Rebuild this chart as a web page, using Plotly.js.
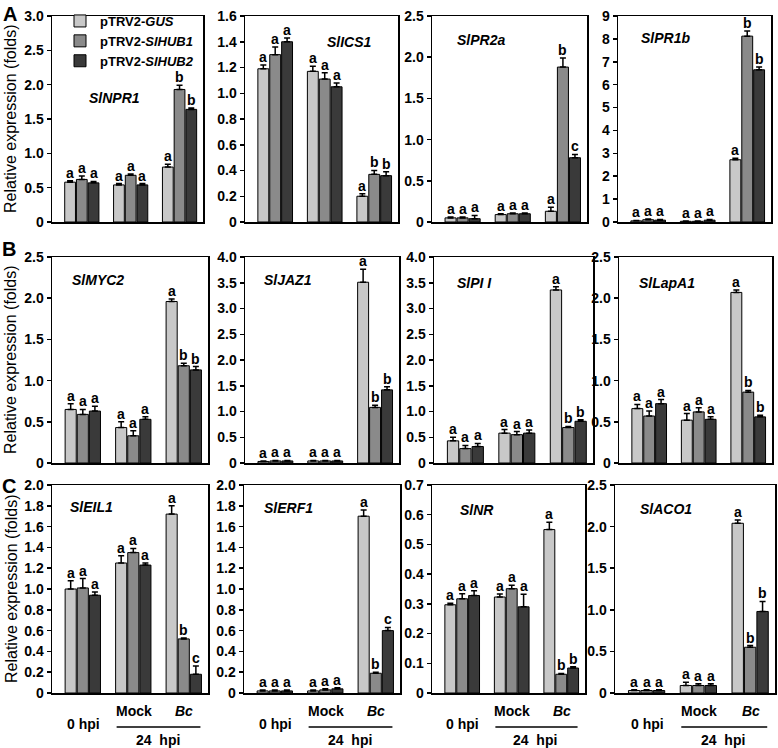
<!DOCTYPE html>
<html><head><meta charset="utf-8">
<script src="https://cdn.plot.ly/plotly-3.0.1.min.js"></script>
<style>html,body{margin:0;padding:0;background:#fff}#chart{width:778px;height:748px}</style>
</head><body><div id="chart"></div>
<script>
// ---------------- DATA ----------------
const groups = ['0 hpi', 'Mock', 'Bc'];
const seriesNames = ['pTRV2-<i>GUS</i>', 'pTRV2-<i>SlHUB1</i>', 'pTRV2-<i>SlHUB2</i>'];
const genes = ['SlNPR1','SlICS1','SlPR2a','SlPR1b','SlMYC2','SlJAZ1','SlPI I','SlLapA1','SlEIL1','SlERF1','SlNR','SlACO1'];

const gusMean = [[0.58,0.54,0.80],[1.19,1.17,0.20],[0.05,0.09,0.13],[0.05,0.03,2.72],
                 [0.65,0.43,1.96],[0.03,0.04,3.51],[0.43,0.58,3.36],[0.66,0.52,2.07],
                 [1.00,1.25,1.72],[0.02,0.02,1.70],[0.297,0.323,0.550],[0.03,0.09,2.04]];
const gusErr  = [[0.02,0.02,0.04],[0.03,0.04,0.02],[0.01,0.01,0.05],[0.02,0.01,0.07],
                 [0.07,0.07,0.03],[0.01,0.01,0.25],[0.07,0.07,0.06],[0.05,0.08,0.03],
                 [0.08,0.07,0.08],[0.01,0.01,0.06],[0.005,0.01,0.025],[0.01,0.04,0.04]];
const hub1Mean = [[0.62,0.68,1.93],[1.30,1.11,0.37],[0.05,0.10,1.88],[0.10,0.03,8.12],
                  [0.59,0.33,1.18],[0.04,0.04,1.08],[0.28,0.55,0.69],[0.57,0.62,0.86],
                  [1.01,1.35,0.52],[0.02,0.03,0.19],[0.317,0.351,0.063],[0.03,0.09,0.55]];
const hub1Err  = [[0.05,0.02,0.06],[0.06,0.05,0.03],[0.01,0.01,0.11],[0.03,0.01,0.22],
                  [0.06,0.06,0.03],[0.01,0.01,0.04],[0.06,0.06,0.02],[0.06,0.05,0.02],
                  [0.09,0.04,0.01],[0.01,0.01,0.01],[0.017,0.012,0.003],[0.01,0.02,0.02]];
const hub2Mean = [[0.57,0.54,1.64],[1.40,1.05,0.36],[0.04,0.10,0.78],[0.08,0.08,6.65],
                  [0.63,0.53,1.13],[0.04,0.04,1.42],[0.32,0.58,0.81],[0.72,0.53,0.56],
                  [0.94,1.23,0.18],[0.02,0.04,0.60],[0.328,0.290,0.084],[0.03,0.09,0.98]];
const hub2Err  = [[0.02,0.02,0.02],[0.03,0.03,0.03],[0.04,0.01,0.04],[0.03,0.03,0.12],
                  [0.06,0.03,0.04],[0.01,0.01,0.06],[0.06,0.06,0.03],[0.05,0.03,0.02],
                  [0.03,0.02,0.08],[0.01,0.01,0.03],[0.016,0.042,0.004],[0.01,0.02,0.12]];
const gusLetters  = [['a','a','a'],['a','a','a'],['a','a','a'],['a','a','a'],['a','a','a'],['a','a','a'],
                     ['a','a','a'],['a','a','a'],['a','a','a'],['a','a','a'],['a','a','a'],['a','a','a']];
const hub1Letters = [['a','a','b'],['a','a','b'],['a','a','b'],['a','a','b'],['a','a','b'],['a','a','b'],
                     ['a','a','b'],['a','a','b'],['a','a','b'],['a','a','b'],['a','a','b'],['a','a','b']];
const hub2Letters = [['a','a','b'],['a','a','b'],['a','a','c'],['a','a','b'],['a','a','b'],['a','a','b'],
                     ['a','a','b'],['a','a','b'],['a','a','c'],['a','a','c'],['a','a','b'],['a','a','b']];

const yMax = [3, 1.6, 2.5, 9, 2.5, 4, 4, 2.5, 2, 2, 0.7, 2.5];
const yTickVals = [
  [0,0.5,1,1.5,2,2.5,3],[0,0.2,0.4,0.6,0.8,1,1.2,1.4,1.6],[0,0.5,1,1.5,2,2.5],[0,1,2,3,4,5,6,7,8,9],
  [0,0.5,1,1.5,2,2.5],[0,0.5,1,1.5,2,2.5,3,3.5,4],[0,0.5,1,1.5,2,2.5,3,3.5,4],[0,0.5,1,1.5,2,2.5],
  [0,0.2,0.4,0.6,0.8,1,1.2,1.4,1.6,1.8,2],[0,0.2,0.4,0.6,0.8,1,1.2,1.4,1.6,1.8,2],
  [0,0.1,0.2,0.3,0.4,0.5,0.6,0.7],[0,0.5,1,1.5,2,2.5]];
const yTickText = [
  ['0','0.5','1.0','1.5','2.0','2.5','3.0'],['0','0.2','0.4','0.6','0.8','1.0','1.2','1.4','1.6'],
  ['0','0.5','1.0','1.5','2.0','2.5'],['0','1','2','3','4','5','6','7','8','9'],
  ['0','0.5','1.0','1.5','2.0','2.5'],['0','0.5','1.0','1.5','2.0','2.5','3.0','3.5','4.0'],
  ['0','0.5','1.0','1.5','2.0','2.5','3.0','3.5','4.0'],['0','0.5','1.0','1.5','2.0','2.5'],
  ['0','0.2','0.4','0.6','0.8','1.0','1.2','1.4','1.6','1.8','2.0'],
  ['0','0.2','0.4','0.6','0.8','1.0','1.2','1.4','1.6','1.8','2.0'],
  ['0','0.1','0.2','0.3','0.4','0.5','0.6','0.7'],['0','0.5','1.0','1.5','2.0','2.5']];

// ---------------- LAYOUT GEOMETRY (pixels) ----------------
const W = 778, H = 748;
const FONT = 'Arial, "Liberation Sans", sans-serif';
const rowY = [[16,222],[257,463],[485,693]];
const colX = [
  [[52,203],[245,398],[432,587],[618,771]],
  [[52,208],[245,399],[434,593],[619,772]],
  [[52,208],[244,400],[432,585],[615,775]]];
const geneLabelPos = [[87,98],[325,42],[455,40],[639,38],
                      [70,280],[262,280],[455,283],[637,283],
                      [68,507],[262,508],[458,510],[638,509]];
const colors = ['#c8c8c8', '#8a8a8a', '#3a3a3a'];
const means = [gusMean, hub1Mean, hub2Mean];
const errs = [gusErr, hub1Err, hub2Err];
const letters = [gusLetters, hub1Letters, hub2Letters];
const barW = 0.22, barStep = 0.24, firstOff = -0.36;
const xRange = [-0.62, 2.47];

const px = v => v / W;
const py = v => 1 - v / H;

const traces = [];
const layout = {
  width: W, height: H, margin: {l:0, r:0, t:0, b:0},
  paper_bgcolor: '#fff', plot_bgcolor: '#fff',
  barmode: 'overlay', showlegend: true,
  font: {family: FONT, color: '#000'},
  legend: {x: px(60), y: py(6), xanchor: 'left', yanchor: 'top', bgcolor: 'rgba(0,0,0,0)',
           font: {size: 13, family: FONT, color: '#000', weight: 'bold'}, tracegroupgap: 0, traceorder: 'normal'},
  annotations: [], shapes: []
};

for (let p = 0; p < 12; p++) {
  const row = Math.floor(p / 4), col = p % 4;
  const n = p === 0 ? '' : String(p + 1);
  const xa = 'x' + n, ya = 'y' + n;
  for (let s = 0; s < 3; s++) {
    const off = firstOff + barStep * s;
    traces.push({
      type: 'bar', x: groups.map((g, i) => i), y: means[s][p],
      width: barW, offset: off, xaxis: xa, yaxis: ya,
      name: seriesNames[s], showlegend: p === 0, hoverinfo: 'skip',
      marker: {color: colors[s], line: {color: '#000', width: 1}},
      error_y: {type: 'data', array: errs[s][p], arrayminus: [0,0,0], symmetric: false,
                color: '#000', thickness: 1.5, width: 3}
    });
    // significance letters above each error bar
    groups.forEach((g, i) => {
      layout.annotations.push({
        xref: xa, yref: ya, x: i + off + barW / 2, y: means[s][p][i] + errs[s][p][i],
        xanchor: 'center', yanchor: 'bottom', showarrow: false, yshift: -2,
        text: '<b>' + letters[s][p][i] + '</b>', font: {size: 14, family: FONT, color: '#000'}
      });
    });
  }
  const xr = colX[row][col], yr = rowY[row];
  layout['xaxis' + n] = {
    domain: [px(xr[0]), px(xr[1])], range: xRange, anchor: ya,
    showline: true, mirror: true, linewidth: 1.5, linecolor: '#000',
    ticks: '', showticklabels: false, showgrid: false, zeroline: false, fixedrange: true
  };
  layout['yaxis' + n] = {
    domain: [py(yr[1]), py(yr[0])], range: [0, yMax[p]], anchor: xa,
    tickvals: yTickVals[p], ticktext: yTickText[p],
    ticks: 'outside', ticklen: 4, tickwidth: 1.5, tickcolor: '#000',
    showline: true, mirror: true, linewidth: 1.5, linecolor: '#000',
    showgrid: false, zeroline: false, fixedrange: true,
    tickfont: {size: 14, family: FONT, color: '#000', weight: 'bold'}
  };
  // gene label
  layout.annotations.push({
    xref: 'paper', yref: 'paper', x: px(geneLabelPos[p][0]), y: py(geneLabelPos[p][1]),
    xanchor: 'left', yanchor: 'middle', showarrow: false,
    text: '<b><i>' + genes[p] + '</i></b>', font: {size: 14, family: FONT, color: '#000'}
  });
  // bottom row x labels
  if (row === 2) {
    layout.annotations.push({xref: xa, yref: 'paper', x: 1, y: py(711), showarrow: false,
      xanchor: 'center', yanchor: 'middle', text: '<b>' + groups[1] + '</b>',
      font: {size: 14, family: FONT, color: '#000'}});
    layout.annotations.push({xref: xa, yref: 'paper', x: 2, y: py(711), showarrow: false,
      xanchor: 'center', yanchor: 'middle', text: '<b><i>' + groups[2] + '</i></b>',
      font: {size: 14, family: FONT, color: '#000'}});
    layout.annotations.push({xref: xa, yref: 'paper', x: 0, y: py(724), showarrow: false,
      xanchor: 'center', yanchor: 'middle', text: '<b>' + groups[0] + '</b>',
      font: {size: 14, family: FONT, color: '#000'}});
    layout.annotations.push({xref: xa, yref: 'paper', x: 1.47, y: py(740), showarrow: false,
      xanchor: 'center', yanchor: 'middle', text: '<b>24\u00a0\u00a0hpi</b>',
      font: {size: 14, family: FONT, color: '#000'}});
    layout.shapes.push({type: 'line', xref: xa, yref: 'paper', x0: 0.66, x1: 2.32,
      y0: py(727), y1: py(727), line: {color: '#000', width: 1.5}});
  }
}
// row labels & y titles
const rowLetters = ['A','B','C'];
const rowLetterPos = [[10,14],[9,249],[9,486]];
for (let r = 0; r < 3; r++) {
  layout.annotations.push({xref: 'paper', yref: 'paper', x: px(rowLetterPos[r][0]), y: py(rowLetterPos[r][1]),
    xanchor: 'center', yanchor: 'middle', showarrow: false, text: '<b>' + rowLetters[r] + '</b>',
    font: {size: 20, family: FONT, color: '#000'}});
  layout.annotations.push({xref: 'paper', yref: 'paper', x: px(11), y: py((rowY[r][0] + rowY[r][1]) / 2),
    xanchor: 'center', yanchor: 'middle', showarrow: false, textangle: -90,
    text: 'Relative expression (folds)', font: {size: 16, family: FONT, color: '#000'}});
}

Plotly.newPlot('chart', traces, layout, {staticPlot: true, displayModeBar: false});
</script>
</body></html>
